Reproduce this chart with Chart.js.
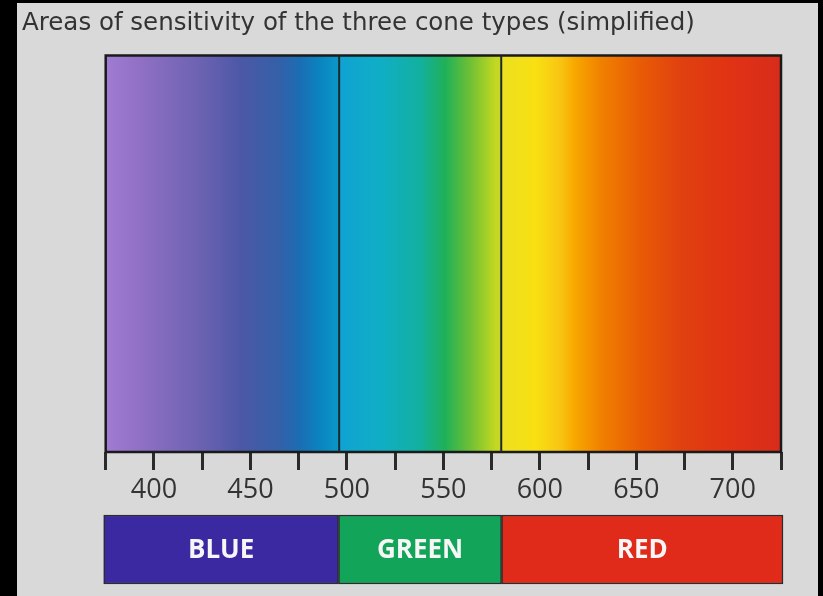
<!DOCTYPE html>
<html>
<head>
<meta charset="utf-8">
<script src="https://cdn.jsdelivr.net/npm/chart.js@4/dist/chart.umd.min.js"></script>
<style>
  html, body { margin: 0; padding: 0; background: #000; }
  #wrap   { position: relative; width: 823px; height: 596px; overflow: hidden; }
  #panel  { position: absolute; left: 17px; top: 3px; width: 801px; height: 593px; background: #d9d9d9; }
  #spectrum { position: absolute; left: 0; top: 0; }
  #cones    { position: absolute; left: 0; top: 505px; }
</style>
</head>
<body>
<div id="wrap">
  <div id="panel"></div>
  <canvas id="spectrum" width="823" height="510"></canvas>
  <canvas id="cones" width="823" height="91"></canvas>
</div>
<script>
// ── Data ──────────────────────────────────────────────────────────────────────
const TITLE = 'Areas of sensitivity of the three cone types (simplified)';
const nmMin = 375, nmMax = 725;
const tickStep = 25, labelStep = 50;

const coneNames      = ['BLUE', 'GREEN', 'RED'];
const coneRanges     = [[375, 496], [496, 580], [580, 725]];
const coneBoundaries = [496, 580];

const spectrumStops  = [375, 393, 424, 445, 465, 476, 486, 496, 496, 517, 538, 551, 564, 577, 580, 580, 598, 611, 618, 632, 653, 674, 700, 725];
const spectrumColors = ['#a07cd2', '#9070c4', '#6c62b2', '#4c58a6', '#3460a8', '#1a6eb4', '#0a84c0', '#0a98c8',
                        '#10a2d2', '#10aec6', '#12b0a0', '#20b058', '#70c034', '#c2d822', '#c8d820',
                        '#ece020', '#f8e012', '#f8c412', '#f8a800', '#f08000', '#e85a06', '#e04010', '#e03214', '#d82c1c'];

// ── Styles ────────────────────────────────────────────────────────────────────
const FONT       = 'Open Sans';
const TITLE_FONT = 'DejaVu Sans';
const coneFills  = ['#3a29a0', '#12a55a', '#e02a1a'];
const INK        = '#333';
const PAD_L = 22, AXIS_W = 83.7, PAD_R = 42;

Chart.defaults.animation = false;
Chart.defaults.plugins.legend.display = false;
Chart.defaults.plugins.tooltip.enabled = false;

function spectrumGradient(ctx) {
  const chart = ctx.chart;
  if (!chart.chartArea) return spectrumColors[0];
  const x = chart.scales.x;
  const x0 = x.getPixelForValue(nmMin), x1 = x.getPixelForValue(nmMax);
  const g = chart.ctx.createLinearGradient(x0, 0, x1, 0);
  spectrumStops.forEach((nm, i) => g.addColorStop((nm - nmMin) / (nmMax - nmMin), spectrumColors[i]));
  return g;
}

// higher order is drawn first, so the lines (order 1) sit on the fill (order 3)
const line = (data, color, width) => ({
  data, borderColor: color, borderWidth: width, pointRadius: 0,
  showLine: true, fill: false, clip: false, order: 1
});

// ── Spectrum + wavelength axis ────────────────────────────────────────────────
new Chart(document.getElementById('spectrum'), {
  type: 'scatter',
  data: {
    datasets: [
      {
        data: [{ x: nmMin, y: 1 }, { x: nmMax, y: 1 }],
        backgroundColor: spectrumGradient, borderWidth: 0, pointRadius: 0,
        showLine: true, fill: 'origin', order: 3
      },
      ...coneBoundaries.map(b => line([{ x: b, y: 0 }, { x: b, y: 1 }], '#1c2a2e', 2)),
      line([{ x: nmMin, y: 0 }, { x: nmMin, y: 1 }, { x: nmMax, y: 1 }, { x: nmMax, y: 0 }, { x: nmMin, y: 0 }], '#1a1a1a', 2.5)
    ]
  },
  options: {
    responsive: false,
    layout: { padding: { left: PAD_L, right: PAD_R, top: 0, bottom: 0 } },
    plugins: {
      title: {
        display: true, text: TITLE, align: 'start', color: INK,
        font: { family: TITLE_FONT, size: 24.5, weight: 'normal' },
        padding: { top: 9, bottom: 17 }
      }
    },
    scales: {
      x: {
        type: 'linear', min: nmMin, max: nmMax,
        border: { display: false },
        grid: { drawOnChartArea: false, drawTicks: true, tickLength: 18, tickColor: '#2a2a2a', tickWidth: 3 },
        ticks: {
          stepSize: tickStep, color: INK, padding: 4, maxRotation: 0, autoSkip: false,
          font: { family: FONT, size: 27 },
          callback: v => (v % labelStep === 0 ? String(v) : '')
        },
        afterFit: s => { s.height = 58; }
      },
      y: {
        type: 'linear', min: 0, max: 1,
        border: { display: false }, grid: { display: false }, ticks: { display: false },
        afterFit: s => { s.width = AXIS_W; }
      }
    }
  }
});

// ── Cone type bar ─────────────────────────────────────────────────────────────
const coneLabels = {
  id: 'coneLabels',
  afterDatasetsDraw(chart) {
    const { ctx } = chart;
    ctx.save();
    ctx.font = `bold 26px "${FONT}"`;
    ctx.fillStyle = '#f6f6f6';
    ctx.textAlign = 'center';
    ctx.textBaseline = 'middle';
    chart.data.datasets.forEach((ds, i) => {
      const bar = chart.getDatasetMeta(i).data[0];
      const c = bar.getCenterPoint();
      ctx.fillText(ds.label, c.x, c.y + 1);
    });
    ctx.restore();
  }
};

new Chart(document.getElementById('cones'), {
  type: 'bar',
  data: {
    labels: ['cones'],
    datasets: coneNames.map((name, i) => ({
      label: name, data: [coneRanges[i]],
      backgroundColor: coneFills[i], borderColor: '#2c2c2c', borderWidth: 1.5, borderSkipped: false,
      barPercentage: 1, categoryPercentage: 1, grouped: false, clip: false
    }))
  },
  options: {
    responsive: false, indexAxis: 'y',
    layout: { padding: { left: PAD_L + AXIS_W - 2, right: PAD_R - 2, top: 10, bottom: 12 } },
    scales: {
      x: { type: 'linear', min: nmMin, max: nmMax, display: false },
      y: { display: false }
    }
  },
  plugins: [coneLabels]
});
</script>
</body>
</html>
